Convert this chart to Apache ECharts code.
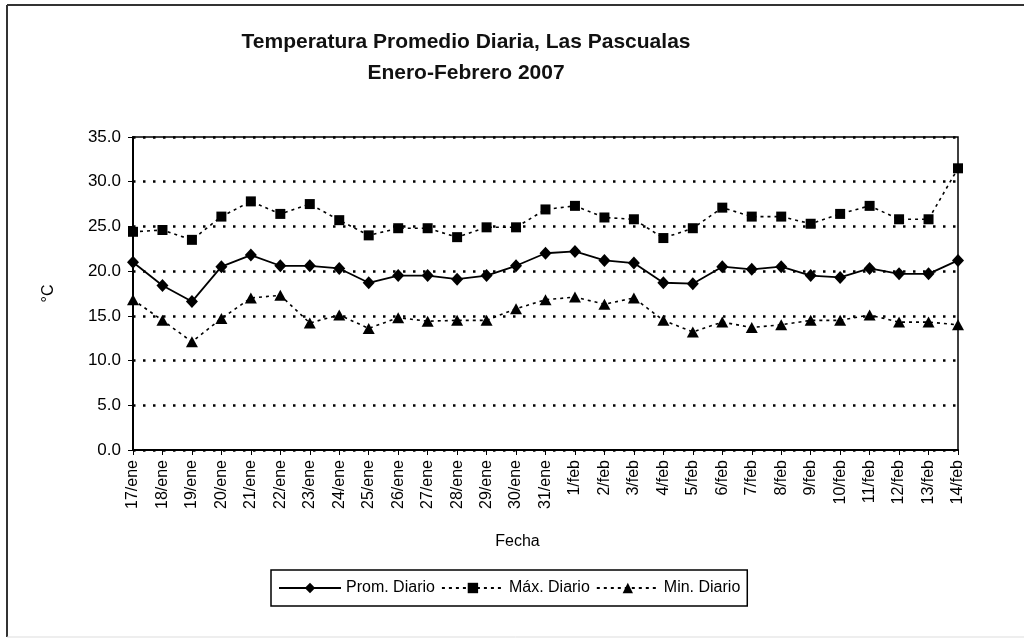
<!DOCTYPE html>
<html>
<head>
<meta charset="utf-8">
<title>Temperatura Promedio Diaria, Las Pascualas</title>
<script src="https://cdn.jsdelivr.net/npm/echarts@6.0.0/dist/echarts.min.js"></script>
<style>
	html, body {margin: 0; padding: 0; background: #fff;}
	#main {width: 1030px; height: 641px;}
</style>
</head>
<body>
<div id="main"></div>
<script>
//fechas (eje x)
var fechas = ['17/ene','18/ene','19/ene','20/ene','21/ene','22/ene','23/ene','24/ene','25/ene','26/ene',
	'27/ene','28/ene','29/ene','30/ene','31/ene','1/feb','2/feb','3/feb','4/feb','5/feb',
	'6/feb','7/feb','8/feb','9/feb','10/feb','11/feb','12/feb','13/feb','14/feb'];
//nombres de las series
var itemArr = ['Prom. Diario', 'Máx. Diario', 'Min. Diario'];
//temperatura promedio diaria
var promDiario = [21.0, 18.4, 16.6, 20.5, 21.8, 20.6, 20.6, 20.3, 18.7, 19.5,
	19.5, 19.1, 19.5, 20.6, 22.0, 22.2, 21.2, 20.9, 18.7, 18.6,
	20.5, 20.2, 20.5, 19.5, 19.3, 20.3, 19.7, 19.7, 21.2];
//temperatura maxima diaria
var maxDiario = [24.4, 24.6, 23.5, 26.1, 27.8, 26.4, 27.5, 25.7, 24.0, 24.8,
	24.8, 23.8, 24.9, 24.9, 26.9, 27.3, 26.0, 25.8, 23.7, 24.8,
	27.1, 26.1, 26.1, 25.3, 26.4, 27.3, 25.8, 25.8, 31.5];
//temperatura minima diaria
var minDiario = [16.8, 14.5, 12.1, 14.7, 17.0, 17.3, 14.2, 15.1, 13.6, 14.8,
	14.4, 14.5, 14.5, 15.8, 16.8, 17.1, 16.3, 17.0, 14.5, 13.2,
	14.3, 13.7, 14.0, 14.5, 14.5, 15.1, 14.3, 14.3, 14.0];

var fuente = 'Liberation Sans, Arial, sans-serif';
var myChart = echarts.init(document.getElementById('main'));

var option = {
	backgroundColor: '#fff',
	animation: false,
	textStyle: {fontFamily: fuente, color: '#000'},
	title: {
		text: 'Temperatura Promedio Diaria, Las Pascualas\nEnero-Febrero 2007',
		left: 461, top: 22, textAlign: 'center',
		textStyle: {fontFamily: fuente, fontSize: 21, fontWeight: 'bold', color: '#111', lineHeight: 31}
	},
	//marco exterior
	graphic: [
		{type: 'line', shape: {x1: 7, y1: 5, x2: 1024, y2: 5}, style: {stroke: '#333', lineWidth: 2}},
		{type: 'line', shape: {x1: 7, y1: 5, x2: 7, y2: 637}, style: {stroke: '#333', lineWidth: 2}},
		{type: 'line', shape: {x1: 7, y1: 637, x2: 1024, y2: 637}, style: {stroke: '#ddd', lineWidth: 1}}
	],
	legend: {
		left: 271, top: 570,
		padding: [10, 7, 10, 7],
		itemGap: 6, itemWidth: 62, itemHeight: 13,
		borderColor: '#000', borderWidth: 1.5,
		textStyle: {fontFamily: fuente, fontSize: 16, color: '#000'},
		data: itemArr
	},
	grid: {left: 133, right: 72, top: 137, bottom: 191, show: true, borderColor: '#000', borderWidth: 1.5},
	xAxis: {
		type: 'category', boundaryGap: false, data: fechas,
		name: 'Fecha', nameLocation: 'middle', nameGap: 84,
		nameTextStyle: {fontFamily: fuente, fontSize: 16, color: '#000', padding: [0, 56, 0, 0]},
		axisLine: {lineStyle: {color: '#000', width: 2}},
		axisTick: {show: true, length: 5, alignWithLabel: true, lineStyle: {color: '#000'}},
		axisLabel: {rotate: 90, fontSize: 16, color: '#000', margin: 10, interval: 0},
		splitLine: {show: false}
	},
	yAxis: {
		type: 'value', min: 0, max: 35, interval: 5,
		name: '°C', nameLocation: 'middle', nameGap: 76,
		nameTextStyle: {fontFamily: fuente, fontSize: 16, color: '#000'},
		axisLine: {show: true, lineStyle: {color: '#000', width: 2}},
		axisTick: {show: true, length: 5, lineStyle: {color: '#000'}},
		axisLabel: {fontSize: 17, color: '#000', margin: 12, formatter: function(v){ return v.toFixed(1); }},
		splitLine: {show: true, lineStyle: {color: '#000', width: 2.5, type: [2.5, 7.5]}}
	},
	series: [
		{name: itemArr[0], type: 'line', data: promDiario, symbol: 'diamond', symbolSize: [12, 13],
			lineStyle: {color: '#000', width: 1.8}, itemStyle: {color: '#000'}, z: 4},
		{name: itemArr[1], type: 'line', data: maxDiario, symbol: 'rect', symbolSize: 10,
			lineStyle: {color: '#000', width: 1.6, type: [3, 4]}, itemStyle: {color: '#000'}, z: 3},
		{name: itemArr[2], type: 'line', data: minDiario, symbol: 'triangle', symbolSize: [12, 11],
			lineStyle: {color: '#000', width: 1.6, type: [3, 4]}, itemStyle: {color: '#000'}, z: 3}
	]
};
myChart.setOption(option);
</script>
</body>
</html>
